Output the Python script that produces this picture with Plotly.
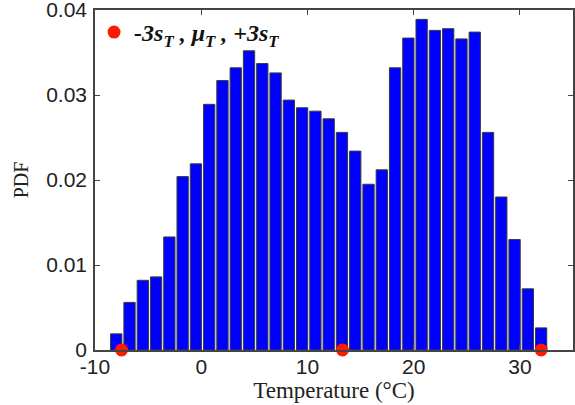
import plotly.graph_objects as go

bin_centers = [-8 + 1.25 * i for i in range(33)]
pdf_values = [0.0019, 0.0056, 0.0082, 0.0086, 0.0133, 0.0204, 0.0219, 0.0289,
              0.0317, 0.0332, 0.0352, 0.0337, 0.0326, 0.0294, 0.0285, 0.0281,
              0.0272, 0.0256, 0.0234, 0.0195, 0.0212, 0.0332, 0.0367, 0.0389,
              0.0376, 0.0378, 0.0366, 0.0374, 0.0256, 0.0180, 0.0130, 0.0072,
              0.0026]
marker_x = [-7.5, 13.3, 32.0]
marker_y = [0, 0, 0]
x_ticks = [-10, 0, 10, 20, 30]
x_tick_labels = ["-10", "0", "10", "20", "30"]
y_ticks = [0, 0.01, 0.02, 0.03, 0.04]
y_tick_labels = ["0", "0.01", "0.02", "0.03", "0.04"]

fig = go.Figure()
fig.add_trace(go.Bar(
    x=bin_centers, y=pdf_values,
    marker=dict(color="#0000FF", line=dict(color="#3a3a3a", width=1)),
    showlegend=False, hoverinfo="skip",
))
fig.add_trace(go.Scatter(
    x=marker_x, y=marker_y, mode="markers",
    marker=dict(color="#FF1A00", size=13),
    cliponaxis=False, hoverinfo="skip",
    name="<b><i>-3s<sub>T</sub> , μ<sub>T</sub> , +3s<sub>T</sub></i></b>",
    showlegend=True,
))

axis_common = dict(
    showline=True, linecolor="#444444", linewidth=1.5, mirror="ticks",
    ticks="inside", ticklen=5, tickcolor="#444444", showgrid=False, zeroline=False,
    automargin=False, ticklabeloverflow="allow",
    tickfont=dict(family="Liberation Sans, Arial", size=21, color="#222222"),
)

fig.update_layout(
    width=575, height=405,
    margin=dict(l=95, r=2, t=10, b=55),
    plot_bgcolor="white", paper_bgcolor="white",
    bargap=0.15,
    xaxis=dict(range=[-10, 35], tickvals=x_ticks, ticktext=x_tick_labels,
               ticklabelstandoff=-3,
               title=dict(text="Temperature (°C)", standoff=0,
                          font=dict(family="Liberation Serif, Times New Roman", size=23, color="#222222")),
               **axis_common),
    yaxis=dict(range=[0, 0.04], tickvals=y_ticks, ticktext=y_tick_labels,
               ticklabelstandoff=2,
               title=dict(text="PDF", standoff=12,
                          font=dict(family="Liberation Serif, Times New Roman", size=20, color="#222222")),
               **axis_common),
    legend=dict(x=-0.002, y=1.0, xanchor="left", yanchor="top",
                bgcolor="rgba(0,0,0,0)",
                font=dict(family="Liberation Serif, Times New Roman", size=24, color="#111111"),
                itemwidth=30),
)

fig.write_html("out.html", config={"displayModeBar": False},
               post_script="document.body.style.margin='0';")
